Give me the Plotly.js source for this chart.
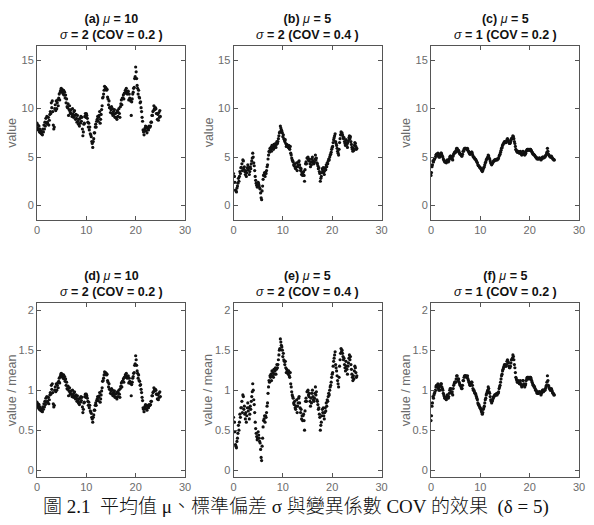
<!DOCTYPE html>
<html>
<head>
<meta charset="utf-8">
<script src="https://cdn.plot.ly/plotly-3.0.1.min.js"></script>
<style>
  html, body { margin: 0; padding: 0; background: #fff; }
  #chart { width: 594px; height: 525px; }
</style>
</head>
<body>
<div id="chart"></div>
<script>
// Sample spacing along the distance axis
const STEP = 0.1;

// Realisation 1: mu = 10, sigma = 2
const valueA = [
  8.5, 8.0, 8.3, 7.8, 8.2, 7.6, 7.9, 7.5, 7.7, 7.4,
  7.6, 7.3, 7.9, 7.6, 8.3, 7.9, 8.6, 8.2, 9.0, 8.5,
  9.2, 8.6, 8.4, 9.1, 8.3, 8.8, 9.4, 9.7, 9.5, 10.6,
  10.1, 10.8, 9.7, 8.3, 7.9, 8.1, 10.0, 10.4, 9.8, 10.8,
  10.0, 10.6, 10.9, 10.3, 11.1, 11.5, 10.9, 11.7, 11.9, 12.1,
  11.7, 12.0, 11.8, 11.5, 11.9, 11.4, 11.7, 11.1, 11.4, 10.6,
  11.0, 10.2, 10.1, 10.5, 9.3, 9.9, 10.3, 9.7, 9.5, 9.9,
  9.5, 9.2, 10.0, 9.4, 9.1, 9.7, 9.8, 9.3, 8.9, 9.4,
  9.0, 8.6, 9.3, 8.7, 8.4, 8.9, 8.2, 9.0, 8.5, 9.2,
  8.7, 9.1, 7.9, 7.2, 7.6, 8.4, 8.5, 9.2, 9.5, 9.1,
  9.5, 9.3, 9.0, 8.6, 8.1, 8.5, 7.8, 8.1, 7.4, 7.3,
  7.1, 6.6, 6.4, 6.0, 6.6, 6.9, 7.5, 7.5, 8.1, 8.4,
  8.1, 8.7, 8.9, 9.2, 8.7, 9.1, 9.3, 9.7, 8.5, 8.9,
  9.4, 9.9, 10.3, 11.1, 11.2, 11.5, 11.9, 12.3, 12.0, 12.2,
  12.1, 11.9, 12.0, 11.2, 11.0, 10.4, 10.8, 10.1, 10.1, 9.6,
  9.9, 10.2, 9.5, 10.0, 9.3, 9.7, 9.4, 9.9, 9.1, 9.5,
  9.1, 9.6, 8.9, 9.8, 9.2, 9.6, 10.0, 9.5, 9.1, 10.2,
  10.5, 10.9, 10.4, 11.1, 11.1, 11.4, 11.0, 11.6, 11.6, 11.9,
  11.7, 12.1, 11.8, 11.5, 11.6, 11.8, 10.9, 11.5, 11.1, 11.0,
  10.8, 9.3, 10.7, 11.0, 11.5, 11.7, 12.1, 12.2, 13.1, 13.3,
  14.3, 13.8, 13.1, 12.4, 12.1, 11.5, 11.9, 11.2, 11.1, 10.6,
  10.7, 10.1, 9.7, 9.1, 8.7, 7.8, 7.6, 7.3, 7.8, 8.0,
  8.2, 7.7, 8.1, 7.5, 8.0, 7.9, 7.8, 8.2, 8.1, 8.1,
  8.2, 8.6, 8.6, 9.3, 9.3, 9.7, 9.8, 10.3, 10.0, 9.9,
  10.1, 10.0, 9.5, 9.5, 8.9, 9.4, 8.8, 9.6, 9.1, 9.8,
  9.2
];

// Realisation 2: mu = 5, sigma = 2
const valueB = [
  3.3, 2.4, 3.0, 2.4, 1.6, 1.5, 1.4, 1.8, 2.0, 2.3,
  2.8, 2.5, 3.0, 3.5, 3.3, 3.9, 3.9, 4.3, 3.6, 4.7,
  4.6, 3.8, 4.0, 3.5, 3.2, 3.6, 3.0, 3.4, 3.9, 4.2,
  3.7, 3.9, 3.2, 3.5, 4.0, 3.8, 4.3, 4.6, 4.9, 5.4,
  5.0, 4.4, 4.1, 3.6, 3.0, 2.6, 2.3, 2.1, 1.9, 2.0,
  2.4, 2.2, 2.0, 1.8, 1.7, 1.3, 0.8, 0.6, 1.5, 2.0,
  2.7, 3.1, 3.2, 3.4, 3.0, 3.4, 3.3, 3.6, 4.0, 4.2,
  4.8, 5.2, 5.6, 5.5, 5.9, 5.8, 6.0, 5.6, 6.2, 5.9,
  6.1, 5.8, 6.3, 6.0, 6.2, 6.4, 6.0, 6.3, 6.6, 6.4,
  6.6, 6.9, 7.2, 7.5, 7.6, 8.2, 8.0, 7.8, 7.7, 7.5,
  7.1, 7.3, 6.9, 6.8, 6.6, 6.8, 6.4, 6.1, 6.3, 6.2,
  6.1, 6.0, 6.2, 5.9, 5.8, 6.1, 5.4, 5.2, 4.9, 4.7,
  4.6, 4.5, 4.2, 4.1, 4.3, 3.9, 3.8, 4.0, 4.4, 3.6,
  4.0, 4.2, 4.5, 4.6, 4.2, 3.9, 3.6, 3.8, 3.2, 3.4,
  3.1, 3.4, 3.5, 3.1, 2.5, 3.7, 4.3, 4.5, 4.3, 4.9,
  4.9, 5.0, 4.7, 4.6, 4.8, 4.3, 4.0, 4.5, 4.2, 4.8,
  5.0, 4.6, 4.4, 4.3, 4.5, 4.8, 5.2, 4.7, 4.9, 4.4,
  4.3, 4.1, 3.8, 3.9, 3.5, 3.3, 2.5, 2.8, 3.0, 3.4,
  3.8, 3.6, 3.9, 3.4, 3.2, 3.6, 3.9, 3.7, 4.2, 4.0,
  4.4, 4.3, 4.6, 4.8, 4.7, 5.0, 5.2, 5.3, 5.5, 5.8,
  6.0, 6.1, 6.5, 6.8, 7.0, 7.2, 7.4, 6.6, 6.4, 6.2,
  5.9, 5.6, 5.4, 5.2, 5.8, 6.5, 6.9, 7.3, 7.6, 7.4,
  7.5, 7.3, 7.1, 6.9, 7.0, 6.6, 6.4, 6.2, 6.8, 6.5,
  6.3, 6.0, 6.5, 6.7, 7.0, 7.2, 6.9, 7.1, 6.6, 6.3,
  6.0, 5.8, 5.6, 5.9, 5.7, 6.2, 6.5, 6.4, 6.1, 5.8,
  5.9
];

// Realisation 3: mu = 5, sigma = 1
const valueC = [
  3.1, 3.4, 4.0, 4.2, 4.6, 4.5, 4.7, 4.8, 4.9, 5.0,
  5.2, 5.3, 5.2, 5.3, 5.4, 5.1, 5.0, 5.2, 5.0, 5.3,
  5.4, 5.4, 5.2, 5.1, 5.0, 4.8, 4.7, 4.6, 4.5, 4.5,
  4.5, 4.4, 4.6, 4.7, 4.6, 4.5, 4.6, 4.8, 5.0, 5.1,
  5.1, 4.9, 4.8, 4.9, 4.7, 5.1, 5.3, 5.4, 5.5, 5.5,
  5.5, 5.7, 5.9, 5.9, 5.7, 5.6, 5.7, 5.5, 5.4, 5.3,
  5.3, 5.2, 5.1, 5.1, 5.3, 5.6, 5.6, 5.8, 5.9, 5.9,
  5.9, 5.9, 5.8, 5.8, 5.9, 5.7, 5.6, 5.5, 5.4, 5.3,
  5.3, 5.4, 5.5, 5.5, 5.3, 5.1, 5.0, 5.0, 4.9, 4.8,
  4.8, 4.7, 4.6, 4.5, 4.4, 4.2, 4.1, 4.1, 4.0, 3.9,
  3.9, 3.8, 3.7, 3.6, 3.5, 3.6, 3.8, 3.9, 4.0, 4.2,
  4.4, 4.5, 4.7, 4.8, 4.9, 5.0, 5.2, 5.1, 4.9, 4.8,
  4.6, 4.4, 4.3, 4.2, 4.3, 4.4, 4.5, 4.6, 4.6, 4.7,
  4.7, 4.7, 4.7, 4.8, 4.7, 4.8, 4.8, 4.9, 5.1, 5.2,
  5.3, 5.5, 5.7, 5.9, 6.0, 6.2, 6.3, 6.4, 6.5, 6.6,
  6.6, 6.5, 6.5, 6.6, 6.8, 6.9, 6.8, 6.7, 6.5, 6.4,
  6.4, 6.5, 6.7, 6.9, 6.9, 7.0, 7.2, 7.1, 6.9, 6.6,
  6.4, 6.1, 5.8, 5.7, 5.6, 5.5, 5.5, 5.6, 5.5, 5.4,
  5.5, 5.6, 5.4, 5.3, 5.2, 5.3, 5.6, 5.6, 5.4, 5.3,
  5.2, 5.3, 5.4, 5.6, 5.7, 5.8, 5.8, 5.7, 5.8, 5.8,
  5.7, 5.8, 5.8, 5.7, 5.6, 5.5, 5.4, 5.3, 5.3, 5.2,
  5.2, 5.1, 5.0, 5.0, 4.9, 4.8, 4.9, 4.8, 4.8, 4.9,
  4.9, 4.9, 4.8, 4.7, 4.8, 4.9, 5.0, 5.0, 4.9, 5.0,
  5.0, 5.0, 5.1, 5.2, 5.3, 5.5, 5.9, 5.6, 5.3, 5.2,
  5.1, 5.1, 5.0, 5.0, 5.1, 5.0, 4.9, 4.8, 4.8, 4.7,
  4.7
];

// Field parameters per column
const means = [10, 5, 5];
const sigmas = [2, 2, 1];
const covs = ['0.2', '0.4', '0.2'];
const topTags = ['(a)', '(b)', '(c)'];
const bottomTags = ['(d)', '(e)', '(f)'];

// Axis ticks
const xTicks = [0, 10, 20, 30];
const yTicksTop = [0, 5, 10, 15];
const yTicksBottom = [0, 0.5, 1, 1.5, 2];
const yTickTextBottom = ['0', '0.5', '1', '1.5', '2'];

const captionText = '圖 2.1&nbsp;&nbsp;平均值 μ、標準偏差 σ 與變異係數 COV 的效果&nbsp;&nbsp;(δ = 5)';

const W = 594, H = 525;
// Pixel frames of each plot box
const colPx = [[37, 185], [233.5, 381.5], [431, 579]];
const rowPx = [[45.7, 220], [303.3, 477]];

const px2x = p => p / W;
const px2y = p => 1 - p / H;

const series = [valueA, valueB, valueC];
const traces = [];
const layout = {
  width: W, height: H,
  margin: {l: 0, r: 0, t: 0, b: 0},
  paper_bgcolor: '#ffffff',
  plot_bgcolor: '#ffffff',
  showlegend: false,
  font: {family: 'Liberation Sans, Arial, sans-serif', color: '#6b6b6b', size: 11},
  annotations: []
};

const axisCommon = {
  showline: true, linecolor: '#555555', linewidth: 1, mirror: 'ticks',
  ticks: 'inside', ticklen: 4, tickwidth: 1, tickcolor: '#555555',
  showgrid: false, zeroline: false,
  tickfont: {size: 11, color: '#6b6b6b', family: 'Liberation Sans, Arial, sans-serif'}
};

function titleHtml(tag, mu, sigma, cov) {
  return '<b>' + tag + ' </b><i>μ</i><b> = ' + mu + '</b><br>' +
         '<i>σ</i><b> = ' + sigma + ' (COV = ' + cov + ' )</b>';
}

for (let row = 0; row < 2; row++) {
  for (let col = 0; col < 3; col++) {
    const k = row * 3 + col + 1;
    const sfx = k === 1 ? '' : String(k);
    const vals = series[col];
    const xs = vals.map((_, i) => +(i * STEP).toFixed(2));
    const ys = row === 0 ? vals : vals.map(v => v / means[col]);

    traces.push({
      type: 'scatter', mode: 'markers',
      x: xs, y: ys,
      xaxis: 'x' + sfx, yaxis: 'y' + sfx,
      marker: {color: '#111111', size: 3.2, line: {width: 0}},
      hoverinfo: 'skip'
    });

    const [x0, x1] = colPx[col];
    const [y0, y1] = rowPx[row];
    layout['xaxis' + sfx] = Object.assign({}, axisCommon, {
      domain: [px2x(x0), px2x(x1)],
      range: [0, 30], tickvals: xTicks,
      anchor: 'y' + sfx
    });
    layout['yaxis' + sfx] = Object.assign({}, axisCommon, row === 0 ? {
      range: [-1.5, 16.5], tickvals: yTicksTop
    } : {
      range: [-0.085, 2.085], tickvals: yTicksBottom, ticktext: yTickTextBottom
    }, {
      domain: [px2y(y1), px2y(y0)],
      anchor: 'x' + sfx
    });

    // Panel title (two lines)
    const tag = row === 0 ? topTags[col] : bottomTags[col];
    layout.annotations.push({
      xref: 'paper', yref: 'paper',
      x: px2x((x0 + x1) / 2), y: px2y(y0 - 2),
      xanchor: 'center', yanchor: 'bottom', showarrow: false,
      text: titleHtml(tag, means[col], sigmas[col], covs[col]),
      font: {size: 12.5, color: '#111111', family: 'Liberation Sans, Arial, sans-serif'}
    });

    // Y-axis label
    layout.annotations.push({
      xref: 'paper', yref: 'paper',
      x: px2x(x0 - 25), y: px2y((y0 + y1) / 2),
      xanchor: 'center', yanchor: 'middle', showarrow: false,
      textangle: -90,
      text: row === 0 ? 'value' : 'value / mean',
      font: {size: 12.5, color: '#6b6b6b', family: 'Liberation Sans, Arial, sans-serif'}
    });
  }
}

// Figure caption
layout.annotations.push({
  xref: 'paper', yref: 'paper',
  x: px2x(296), y: px2y(507),
  xanchor: 'center', yanchor: 'middle', showarrow: false,
  text: captionText,
  font: {size: 19, color: '#111111', family: 'Liberation Serif, Noto Sans CJK TC, serif', weight: 300}
});

Plotly.newPlot('chart', traces, layout, {staticPlot: true, displayModeBar: false});
</script>
</body>
</html>
